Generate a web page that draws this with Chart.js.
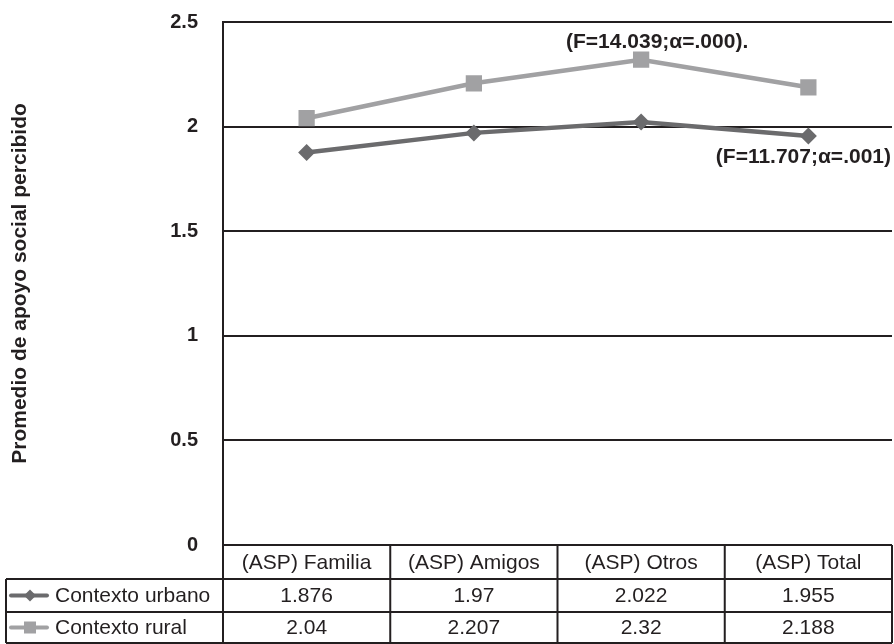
<!DOCTYPE html>
<html>
<head>
<meta charset="utf-8">
<script src="https://cdn.jsdelivr.net/npm/chart.js@4/dist/chart.umd.min.js"></script>
<style>
  html, body { margin: 0; padding: 0; background: #fff; overflow: hidden; }
</style>
</head>
<body>
<canvas id="grafico" width="894" height="644"></canvas>
<script>
// datos del gráfico
var categorias = ['(ASP) Familia', '(ASP) Amigos', '(ASP) Otros', '(ASP) Total'];
var urbano = [1.876, 1.97, 2.022, 1.955];
var rural = [2.04, 2.207, 2.32, 2.188];
var etiquetasY = ['0', '0.5', '1', '1.5', '2', '2.5'];
var nombres = ['Contexto urbano', 'Contexto rural'];
var anotaciones = ['(F=14.039;\u03b1=.000).', '(F=11.707;\u03b1=.001)'];

var colorUrbano = '#6b6b6d';
var colorRural = '#a1a1a3';
var negro = '#231f20';
var fuente = '"Liberation Sans", Arial, sans-serif';

// tabla de datos debajo del gráfico + textos F
var tablaPlugin = {
  id: 'tabla',
  afterDraw: function(chart) {
    var ctx = chart.ctx;
    var area = chart.chartArea;
    var x = chart.scales.x;
    var y = chart.scales.y;
    var filas = [area.bottom, area.bottom + 34, area.bottom + 67, area.bottom + 98];
    var izq = 6;
    var anchoCol = (area.right - area.left) / categorias.length;

    ctx.save();
    ctx.strokeStyle = negro;
    ctx.lineWidth = 2;
    ctx.beginPath();
    // líneas horizontales
    ctx.moveTo(area.left, filas[0]); ctx.lineTo(area.right, filas[0]);
    for (var r = 1; r < filas.length; r++) {
      ctx.moveTo(izq, filas[r]); ctx.lineTo(area.right, filas[r]);
    }
    // líneas verticales
    ctx.moveTo(izq, filas[1]); ctx.lineTo(izq, filas[3]);
    ctx.moveTo(area.left, filas[0]); ctx.lineTo(area.left, filas[3]);
    for (var i = 0; i < categorias.length; i++) {
      var xr = x.getPixelForValue(i) + anchoCol / 2;
      ctx.moveTo(xr, filas[0]); ctx.lineTo(xr, filas[3]);
    }
    ctx.stroke();

    ctx.fillStyle = negro;
    ctx.font = '21px ' + fuente;
    ctx.textAlign = 'center';
    ctx.textBaseline = 'middle';
    var series = [urbano, rural];
    for (var c = 0; c < categorias.length; c++) {
      var cx = x.getPixelForValue(c);
      ctx.fillText(categorias[c], cx, (filas[0] + filas[1]) / 2 + 1);
      for (var s = 0; s < series.length; s++) {
        ctx.fillText(String(series[s][c]), cx, (filas[s + 1] + filas[s + 2]) / 2 + 1);
      }
    }

    // leyenda en la tabla
    var colores = [colorUrbano, colorRural];
    for (var k = 0; k < nombres.length; k++) {
      var cy = (filas[k + 1] + filas[k + 2]) / 2;
      ctx.strokeStyle = colores[k];
      ctx.fillStyle = colores[k];
      ctx.lineWidth = 4;
      ctx.lineCap = 'round';
      ctx.beginPath();
      ctx.moveTo(11, cy); ctx.lineTo(47, cy);
      ctx.stroke();
      ctx.beginPath();
      if (k === 0) {
        ctx.moveTo(30, cy - 6); ctx.lineTo(36, cy); ctx.lineTo(30, cy + 6); ctx.lineTo(24, cy);
        ctx.closePath();
      } else {
        ctx.rect(24, cy - 6, 12, 12);
      }
      ctx.fill();
      ctx.fillStyle = negro;
      ctx.textAlign = 'left';
      ctx.fillText(nombres[k], 55, cy + 1);
    }

    // anotaciones F
    ctx.font = 'bold 21px ' + fuente;
    ctx.fillStyle = negro;
    ctx.textAlign = 'center';
    ctx.fillText(anotaciones[0], x.getPixelForValue(2) + 16, y.getPixelForValue(rural[2]) - 17);
    ctx.textAlign = 'right';
    ctx.fillText(anotaciones[1], area.right - 1, y.getPixelForValue(urbano[3]) + 21);
    ctx.restore();
  }
};

var ctx = document.getElementById('grafico').getContext('2d');
new Chart(ctx, {
  type: 'line',
  data: {
    labels: categorias,
    datasets: [{
      label: nombres[0],
      data: urbano,
      borderColor: colorUrbano,
      backgroundColor: colorUrbano,
      borderWidth: 4.5,
      pointStyle: 'rectRot',
      pointRadius: 8.5,
      pointBorderWidth: 0,
      tension: 0
    }, {
      label: nombres[1],
      data: rural,
      borderColor: colorRural,
      backgroundColor: colorRural,
      borderWidth: 4.5,
      pointStyle: 'rect',
      pointRadius: 11.5,
      pointBorderWidth: 0,
      tension: 0
    }]
  },
  options: {
    responsive: false,
    animation: false,
    devicePixelRatio: 1,
    layout: { autoPadding: false, padding: { left: 0, right: 2, top: 22, bottom: 99 } },
    plugins: {
      legend: { display: false },
      tooltip: { enabled: false }
    },
    scales: {
      x: {
        display: false,
        offset: true
      },
      y: {
        min: 0,
        max: 2.5,
        afterFit: function(scale) {
          scale.width = 223;
          scale.paddingTop = 0;
          scale.paddingBottom = 0;
          scale.paddingLeft = 0;
          scale.paddingRight = 0;
        },
        ticks: {
          stepSize: 0.5,
          padding: 25,
          color: negro,
          font: { family: fuente, size: 20, weight: 'bold' },
          callback: function(v) { return etiquetasY[Math.round(v * 2)]; }
        },
        grid: { color: negro, lineWidth: 2, drawTicks: false },
        border: { display: true, color: negro, width: 2 },
        title: {
          display: true,
          text: 'Promedio de apoyo social percibido',
          color: negro,
          padding: { top: 8, bottom: 0 },
          font: { family: fuente, size: 21, weight: 'bold' }
        }
      }
    }
  },
  plugins: [tablaPlugin]
});
</script>
</body>
</html>
